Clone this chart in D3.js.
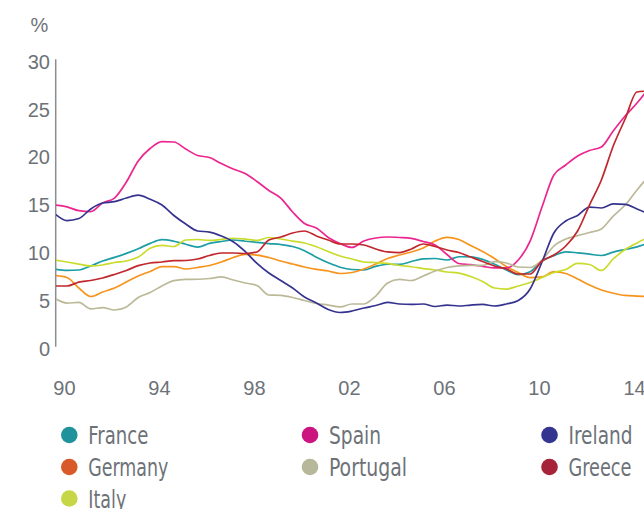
<!DOCTYPE html>
<html>
<head>
<meta charset="utf-8">
<script src="https://cdn.jsdelivr.net/npm/d3@7"></script>
<style>
  html, body { margin: 0; padding: 0; background: #ffffff; }
  svg { display: block; }
</style>
</head>
<body>
<svg id="chart" width="644" height="509"></svg>
<script>
// ---- data (unemployment rate, %) ----
const years = d3.range(51).map(i => 1989.5 + i * 0.5);
const xTickYears = [1990, 1994, 1998, 2002, 2006, 2010, 2014];
const xTickLabels = ["90", "94", "98", "02", "06", "10", "14"];
const yTicks = [0, 5, 10, 15, 20, 25, 30];
const unitLabel = "%";

const countries = ["France", "Germany", "Italy", "Spain", "Portugal", "Ireland", "Greece"];
const lineColors = ["#1d9ea5", "#f7941d", "#c9dc2c", "#ec268f", "#bcb999", "#35338f", "#c1272d"];
const legendColors = ["#1f929b", "#d85a2a", "#c6d646", "#cc1481", "#b7b799", "#34358f", "#a6243a"];

const france   = [8.11,7.99,8.04,8.46,8.98,9.35,9.77,10.26,10.82,11.2,11.04,10.73,10.42,10.81,11.01,11.17,11.04,10.93,10.8,10.7,10.49,10.05,9.37,8.8,8.33,8.09,8.05,8.42,8.64,8.63,8.92,9.2,9.24,9.08,9.42,9.41,9.15,8.64,8.05,7.56,7.86,8.96,9.54,9.93,9.83,9.69,9.55,9.9,10.18,10.45,10.86];
const germany  = [7.46,7.25,6.16,5.27,5.74,6.16,6.78,7.41,7.88,8.4,8.4,8.14,8.3,8.51,8.87,9.34,9.66,9.6,9.34,8.98,8.66,8.35,8.11,7.93,7.67,7.78,8.14,8.66,9.24,9.6,9.92,10.33,11.06,11.45,11.22,10.6,9.97,9.24,8.4,7.78,7.25,7.31,7.86,7.67,7.1,6.47,5.95,5.61,5.38,5.32,5.27];
const italy    = [9.08,8.87,8.66,8.46,8.56,8.82,8.98,9.39,10.3,10.6,10.49,11.17,11.22,11.12,11.24,11.35,11.27,11.12,11.43,11.27,11.06,10.86,10.47,9.97,9.5,9.19,8.87,8.82,8.72,8.51,8.38,8.19,8.04,7.83,7.72,7.36,6.84,6.16,6.05,6.37,6.73,7.25,7.78,8.09,8.72,8.61,7.99,9.19,10.18,10.86,11.48];
const spain    = [14.82,14.63,14.23,14.14,15.03,15.55,17.22,19.42,20.72,21.43,21.4,20.67,19.99,19.78,19.15,18.58,18.11,17.28,16.34,15.55,14.09,12.89,12.42,11.43,10.8,10.39,11.06,11.38,11.48,11.43,11.33,11.01,10.65,9.66,8.72,8.59,8.42,8.25,8.25,9.08,11.06,14.61,17.95,19.0,19.94,20.51,20.88,22.55,24.11,25.47,27.04];
const portugal = [5.06,4.59,4.65,3.97,4.12,3.86,4.18,5.17,5.69,6.37,6.92,7.05,7.07,7.15,7.31,6.99,6.68,6.42,5.43,5.38,5.17,4.85,4.54,4.38,4.18,4.49,4.49,5.32,6.68,7.05,6.94,7.41,7.93,8.3,8.46,8.51,8.51,8.92,8.77,8.35,8.3,9.08,10.54,11.27,11.62,11.95,12.32,13.67,14.82,16.39,17.85];
const ireland  = [13.88,13.2,13.41,14.41,15.03,15.17,15.55,15.85,15.42,14.82,13.73,12.84,12.11,12.0,11.59,10.99,9.97,8.72,7.72,6.94,6.16,5.22,4.59,3.91,3.6,3.76,4.07,4.33,4.65,4.49,4.44,4.49,4.23,4.38,4.28,4.38,4.44,4.28,4.49,4.85,6.05,8.87,11.9,13.15,13.73,14.61,14.51,14.93,14.88,14.41,13.88];
const greece   = [6.37,6.37,6.78,6.94,7.2,7.57,7.99,8.49,8.77,8.87,9.01,9.03,9.19,9.55,9.81,9.81,9.76,9.92,11.17,11.48,11.9,12.11,11.59,11.17,10.75,10.75,10.65,10.23,9.92,9.86,10.23,10.75,10.49,10.13,9.86,9.39,8.92,8.46,8.14,7.62,7.62,8.98,9.6,10.54,12.11,14.82,17.43,20.98,23.8,26.62,26.72];

const seriesValues = [france, germany, italy, spain, portugal, ireland, greece];

// ---- layout ----
const svg = d3.select("#chart");
const textColor = "#6d7278";
const x = d3.scaleLinear().domain([1989.5, 2014]).range([55.1, 637]);
const y = d3.scaleLinear().domain([0, 30]).range([347, 59.6]);

const clip = svg.append("defs").append("clipPath").attr("id", "plotclip")
  .append("rect").attr("x", 56).attr("y", 0).attr("width", 600).attr("height", 360);

// y axis line
svg.append("line")
  .attr("x1", 55.7).attr("x2", 55.7)
  .attr("y1", y(30) - 0.3).attr("y2", y(0) - 0.3)
  .attr("stroke", "#8a8e92").attr("stroke-width", 1.5);

// y tick labels
svg.append("g").selectAll("text").data(yTicks).join("text")
  .attr("x", 50).attr("y", d => y(d) + 9)
  .attr("text-anchor", "end")
  .attr("font-family", "'Liberation Sans', Arial, sans-serif")
  .attr("font-size", 20)
  .attr("fill", textColor)
  .text(d => d);

// unit label
svg.append("text")
  .attr("x", 39.5).attr("y", 32)
  .attr("text-anchor", "middle")
  .attr("font-family", "'Liberation Sans', Arial, sans-serif")
  .attr("font-size", 20)
  .attr("fill", textColor)
  .text(unitLabel);

// x tick labels
svg.append("g").selectAll("text").data(xTickYears).join("text")
  .attr("x", d => x(d) - 2.5).attr("y", 395)
  .attr("text-anchor", "middle")
  .attr("font-family", "'Liberation Sans', Arial, sans-serif")
  .attr("font-size", 20)
  .attr("fill", textColor)
  .text((d, i) => xTickLabels[i]);

// lines
const line = d3.line()
  .x((d, i) => x(years[i]))
  .y(d => y(d))
  .curve(d3.curveMonotoneX);

svg.append("g").attr("clip-path", "url(#plotclip)")
  .selectAll("path").data(seriesValues).join("path")
  .attr("d", d => line(d))
  .attr("fill", "none")
  .attr("stroke", (d, i) => lineColors[i])
  .attr("stroke-width", 1.7)
  .attr("stroke-linejoin", "round");

// legend
const legendCol = [0, 0, 0, 1, 1, 2, 2];
const legendRow = [0, 1, 2, 0, 1, 0, 1];
const colX = [69.3, 310, 549.5];
const rowY = [435, 467, 498.5];
const textWidths = [60, 80, 38, 52, 78, 64, 63];

const lg = svg.append("g").selectAll("g").data(countries).join("g")
  .attr("transform", (d, i) => `translate(${colX[legendCol[i]]},${rowY[legendRow[i]]})`);
lg.append("circle").attr("r", 8.3).attr("fill", (d, i) => legendColors[i]);
lg.append("text")
  .attr("x", 19).attr("y", 9)
  .attr("font-family", "'Liberation Sans Narrow', 'DejaVu Sans Condensed', 'Roboto Condensed', Arial, sans-serif")
  .attr("font-size", 25)
  .attr("fill", textColor)
  .attr("textLength", (d, i) => textWidths[i])
  .attr("lengthAdjust", "spacingAndGlyphs")
  .text(d => d);
</script>
</body>
</html>
